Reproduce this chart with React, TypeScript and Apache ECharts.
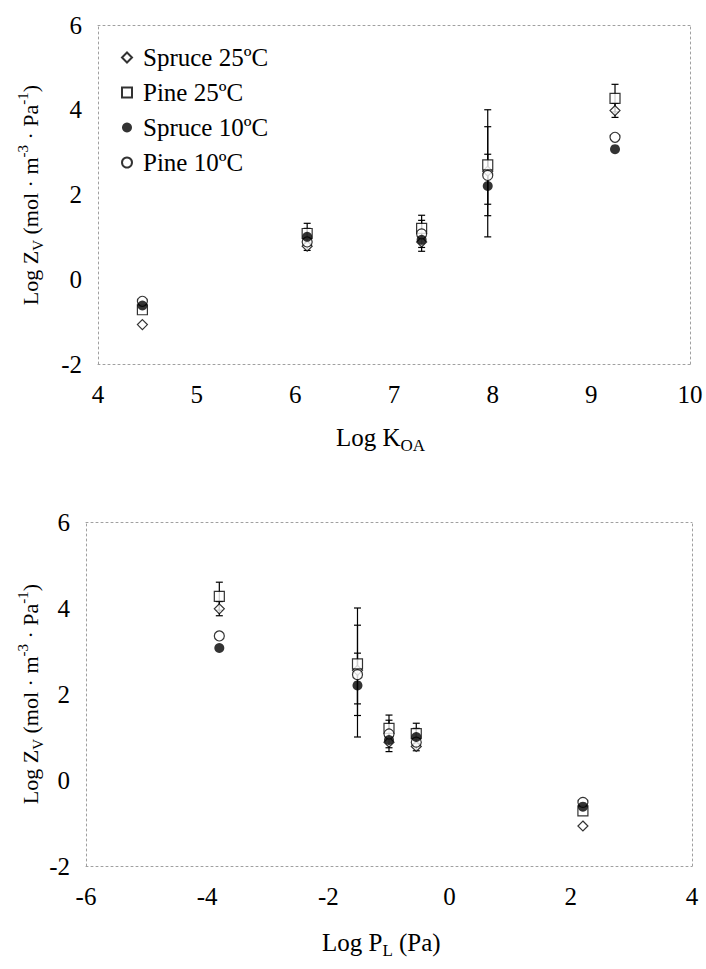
import React, { useEffect, useRef } from "react";
import * as echarts from "echarts";

const koa = [4.45, 6.12, 7.28, 7.95, 9.24];
const logPL = [2.2, -0.55, -1.0, -1.52, -3.8];
const spruce25 = [-1.07, 0.78, 0.88, 2.55, 3.98];
const spruce25Low: (number | null)[] = [null, 0.68, 0.66, 1.0, 3.82];
const spruce25High: (number | null)[] = [null, 1.2, 1.39, 4.0, 4.15];
const pine25 = [-0.72, 1.08, 1.2, 2.7, 4.27];
const pine25Low: (number | null)[] = [null, 0.85, 0.75, 1.5, 3.95];
const pine25High: (number | null)[] = [null, 1.32, 1.51, 3.6, 4.6];
const spruce10 = [-0.62, 1.0, 0.93, 2.2, 3.07];
const pine10 = [-0.52, 0.88, 1.07, 2.45, 3.35];
const pine10Low: (number | null)[] = [null, null, null, 1.77, null];
const pine10High: (number | null)[] = [null, null, null, 2.95, null];

const xTicksTop = [4, 10, 1];
const xTicksBottom = [-6, 4, 2];
const yTicks = [-2, 6, 2];

const FONT = "'Liberation Serif', 'Times New Roman', serif";
const names = ["Spruce 25ºC", "Pine 25ºC", "Spruce 10ºC", "Pine 10ºC"];

function errData(xs: number[], lo: (number | null)[], hi: (number | null)[]) {
  const out: number[][] = [];
  xs.forEach((x, i) => {
    if (lo[i] != null && hi[i] != null) out.push([x, lo[i] as number, hi[i] as number]);
  });
  return out;
}

const renderErr = (params: any, api: any) => {
  const x = api.value(0);
  const p1 = api.coord([x, api.value(1)]);
  const p2 = api.coord([x, api.value(2)]);
  const w = 3.5;
  const st = { stroke: "#000", lineWidth: 1.2 };
  return {
    type: "group",
    children: [
      { type: "line", shape: { x1: p1[0], y1: p1[1], x2: p2[0], y2: p2[1] }, style: st },
      { type: "line", shape: { x1: p1[0] - w, y1: p1[1], x2: p1[0] + w, y2: p1[1] }, style: st },
      { type: "line", shape: { x1: p2[0] - w, y1: p2[1], x2: p2[0] + w, y2: p2[1] }, style: st },
    ],
  };
};

function seriesFor(xs: number[], gi: number) {
  const ax = { xAxisIndex: gi * 2, yAxisIndex: gi * 2 };
  const pair = (ys: number[]) => xs.map((x, i) => [x, ys[i]]);
  const open = { color: "#fff", borderColor: "#000", borderWidth: 1.2 };
  return [
    { type: "custom", ...ax, renderItem: renderErr, data: errData(xs, spruce25Low, spruce25High), z: 2, silent: true },
    { type: "custom", ...ax, renderItem: renderErr, data: errData(xs, pine25Low, pine25High), z: 2, silent: true },
    { type: "custom", ...ax, renderItem: renderErr, data: errData(xs, pine10Low, pine10High), z: 2, silent: true },
    { name: names[0], type: "scatter", ...ax, symbol: "diamond", symbolSize: 10, itemStyle: open, data: pair(spruce25), z: 3 },
    { name: names[1], type: "scatter", ...ax, symbol: "rect", symbolSize: 10, itemStyle: open, data: pair(pine25), z: 3 },
    { name: names[3], type: "scatter", ...ax, symbol: "circle", symbolSize: 10, itemStyle: open, data: pair(pine10), z: 3 },
    { name: names[2], type: "scatter", ...ax, symbol: "circle", symbolSize: 10, itemStyle: { color: "#000" }, data: pair(spruce10), z: 4 },
  ];
}

const dash = { color: "#a0a0a0", type: [2, 3] as any, width: 1 };

function xAxes(ticks: number[], gi: number) {
  return [
    {
      type: "value", gridIndex: gi, position: "bottom", min: ticks[0], max: ticks[1], interval: ticks[2],
      axisLine: { show: true, onZero: false, lineStyle: dash }, axisTick: { show: false }, splitLine: { show: false },
      axisLabel: { fontFamily: FONT, fontSize: 25, color: "#000", margin: 18 },
    },
    {
      type: "value", gridIndex: gi, position: "top", min: ticks[0], max: ticks[1], interval: ticks[2],
      axisLine: { show: true, onZero: false, lineStyle: dash }, axisTick: { show: false }, splitLine: { show: false },
      axisLabel: { show: false },
    },
  ];
}

function yAxes(gi: number) {
  return [
    {
      type: "value", gridIndex: gi, position: "left", min: yTicks[0], max: yTicks[1], interval: yTicks[2],
      axisLine: { show: true, onZero: false, lineStyle: dash }, axisTick: { show: false }, splitLine: { show: false },
      axisLabel: { fontFamily: FONT, fontSize: 25, color: "#000", margin: 16 },
    },
    {
      type: "value", gridIndex: gi, position: "right", min: yTicks[0], max: yTicks[1], interval: yTicks[2],
      axisLine: { show: true, onZero: false, lineStyle: dash }, axisTick: { show: false }, splitLine: { show: false },
      axisLabel: { show: false },
    },
  ];
}

const richX = {
  n: { fontFamily: FONT, fontSize: 25, color: "#000", lineHeight: 32, verticalAlign: "middle" },
  sub: { fontFamily: FONT, fontSize: 17, color: "#000", lineHeight: 32, verticalAlign: "bottom" },
};
const richY = {
  n: { fontFamily: FONT, fontSize: 22, color: "#000", lineHeight: 30, verticalAlign: "middle" },
  sub: { fontFamily: FONT, fontSize: 15, color: "#000", lineHeight: 30, verticalAlign: "bottom" },
  sup: { fontFamily: FONT, fontSize: 15, color: "#000", lineHeight: 30, verticalAlign: "top" },
};

const yTitle = "{n|Log Z}{sub|V}{n| (mol · m}{sup|-3}{n| · Pa}{sup|-1}{n|)}";

export default function App() {
  const ref = useRef<HTMLDivElement>(null);
  useEffect(() => {
    if (!ref.current) return;
    const chart = echarts.init(ref.current, null, { renderer: "svg" });
    chart.setOption({
      animation: false,
      backgroundColor: "#fff",
      grid: [
        { left: 98, right: 16, top: 25, height: 339 },
        { left: 86, right: 14, top: 522, height: 344 },
      ],
      xAxis: [...xAxes(xTicksTop, 0), ...xAxes(xTicksBottom, 1)],
      yAxis: [...yAxes(0), ...yAxes(1)],
      legend: {
        data: [names[0], names[1], names[2], names[3]],
        orient: "vertical", left: 116, top: 40, itemGap: 10, itemWidth: 10, itemHeight: 10,
        textStyle: { fontFamily: FONT, fontSize: 25, color: "#000", padding: [0, 0, 0, 6] },
        selectedMode: false,
      },
      graphic: [
        {
          type: "text", left: 336, top: 425,
          style: { text: "{n|Log K}{sub|OA}", rich: richX },
        },
        {
          type: "text", left: 322, top: 930,
          style: { text: "{n|Log P}{sub|L}{n| (Pa)}", rich: richX },
        },
        {
          type: "text", x: 30, y: 195, rotation: Math.PI / 2,
          style: { text: yTitle, rich: richY, align: "center", verticalAlign: "middle" },
        },
        {
          type: "text", x: 30, y: 694, rotation: Math.PI / 2,
          style: { text: yTitle, rich: richY, align: "center", verticalAlign: "middle" },
        },
      ],
      series: [...seriesFor(koa, 0), ...seriesFor(logPL, 1)],
    });
    return () => chart.dispose();
  }, []);
  return <div ref={ref} style={{ position: "fixed", left: 0, top: 0, width: 706, height: 969 }} />;
}
